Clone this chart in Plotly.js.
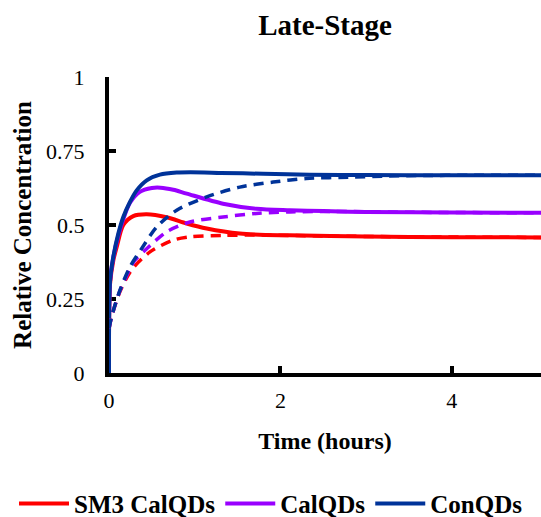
<!DOCTYPE html>
<html>
<head>
<meta charset="utf-8">
<script src="https://cdn.plot.ly/plotly-3.0.1.min.js"></script>
<style>
  html, body { margin: 0; padding: 0; background: #fff; }
  #chart { width: 541px; height: 517px; }
</style>
</head>
<body>
<div id="chart"></div>
<script>
// ---- data ----
const seriesNames = ['SM3 CalQDs', 'CalQDs', 'ConQDs'];

const tSm3Solid = [0, 0.012, 0.05, 0.09, 0.167, 0.283, 0.44, 0.672, 0.906, 1.14, 1.526, 2.11, 3, 4, 5.04];
const sm3Solid  = [0, 0.30, 0.38, 0.426, 0.500, 0.530, 0.536, 0.526, 0.505, 0.488, 0.471, 0.465, 0.461, 0.459, 0.458];

const tCalSolid = [0, 0.012, 0.05, 0.109, 0.167, 0.245, 0.36, 0.5, 0.6, 0.75, 0.906, 1.33, 1.72, 2.11, 2.5, 3, 4, 5.04];
const calSolid  = [0, 0.31, 0.39, 0.465, 0.52, 0.575, 0.612, 0.625, 0.626, 0.619, 0.606, 0.572, 0.555, 0.550, 0.547, 0.544, 0.542, 0.541];

const tConSolid = [0, 0.012, 0.05, 0.109, 0.167, 0.245, 0.323, 0.44, 0.594, 0.79, 0.95, 1.3, 1.8, 2.34, 3, 4, 5.04];
const conSolid  = [0, 0.31, 0.392, 0.471, 0.527, 0.578, 0.617, 0.651, 0.670, 0.677, 0.678, 0.676, 0.673, 0.670, 0.669, 0.668, 0.668];

const tSm3Dash = [0, 0.03, 0.128, 0.26, 0.478, 0.75, 0.944, 1.33, 1.8, 2.5, 3.5, 5.04];
const sm3Dash  = [0.15, 0.19, 0.275, 0.347, 0.409, 0.449, 0.460, 0.465, 0.466, 0.463, 0.460, 0.458];

const tCalDash = [0, 0.03, 0.128, 0.245, 0.3, 0.44, 0.672, 0.944, 1.33, 1.72, 2.11, 2.6, 3.5, 5.04];
const calDash  = [0.15, 0.19, 0.278, 0.352, 0.38, 0.42, 0.477, 0.510, 0.527, 0.539, 0.544, 0.546, 0.543, 0.541];

const tConDash = [0, 0.03, 0.128, 0.245, 0.38, 0.556, 0.79, 1.14, 1.526, 1.915, 2.3, 2.84, 3.19, 3.6, 4.2, 5.04];
const conDash  = [0.15, 0.19, 0.28, 0.359, 0.42, 0.493, 0.55, 0.595, 0.628, 0.645, 0.657, 0.662, 0.665, 0.667, 0.668, 0.668];

const yTickVals = [0, 0.25, 0.5, 0.75, 1];
const yTickText = ['0', '0.25', '0.5', '0.75', '1'];
const xTickVals = [0, 2, 4];
const xTickText = ['0', '2', '4'];

// ---- styling ----
const colors = ['#ff0000', '#9900ff', '#003399'];
const serif = 'Liberation Serif';
const styled = s => '<span style="font-family:\'Liberation Serif\';font-weight:bold">' + s + '</span>';

function solid(x, y, i) {
  return { x: x, y: y, name: styled(seriesNames[i]), type: 'scatter', mode: 'lines',
    line: { color: colors[i], width: 4, shape: 'spline', smoothing: 0.8 },
    showlegend: true, hoverinfo: 'skip' };
}
function dashed(x, y, i) {
  return { x: x, y: y, name: seriesNames[i] + ' (dashed)', type: 'scatter', mode: 'lines',
    line: { color: colors[i], width: 3.5, dash: '10px,7px', shape: 'spline', smoothing: 0.8 },
    showlegend: false, hoverinfo: 'skip' };
}

const data = [
  solid(tSm3Solid, sm3Solid, 0),
  solid(tCalSolid, calSolid, 1),
  solid(tConSolid, conSolid, 2),
  dashed(tSm3Dash, sm3Dash, 0),
  dashed(tCalDash, calDash, 1),
  dashed(tConDash, conDash, 2)
];

const plotW = 541 - 109, plotH = 517 - 76.5 - 144;

const layout = {
  width: 541, height: 517,
  margin: { l: 109, r: 0, t: 76.5, b: 144, autoexpand: false },
  paper_bgcolor: '#fff', plot_bgcolor: '#fff',
  font: { family: serif, color: '#000', size: 22 },
  title: { text: 'Late-Stage', font: { family: serif, size: 29, weight: 'bold', color: '#000' },
    xref: 'paper', x: 0.5, xanchor: 'center', yref: 'container', y: 1 - 25 / 517, yanchor: 'middle' },
  xaxis: {
    range: [0, 5.04], showgrid: false, zeroline: false,
    showline: true, linecolor: '#000', linewidth: 4,
    ticks: 'inside', ticklen: 7, tickwidth: 4, tickcolor: '#000',
    tickvals: xTickVals, ticktext: xTickText,
    tickfont: { family: serif, size: 22, color: '#000' },
    ticklabelstandoff: 5,
    layer: 'below traces',
    title: { text: 'Time (hours)', font: { family: serif, size: 24, weight: 'bold', color: '#000' }, standoff: 21 }
  },
  yaxis: {
    range: [0, 1], showgrid: false, zeroline: false,
    showline: true, linecolor: '#000', linewidth: 4,
    ticks: 'inside', ticklen: 7, tickwidth: 4, tickcolor: '#000',
    tickvals: yTickVals, ticktext: yTickText,
    tickfont: { family: serif, size: 22, color: '#000' },
    ticklabelstandoff: 16,
    layer: 'below traces',
    title: { text: 'Relative Concentration', font: { family: serif, size: 25, weight: 'bold', color: '#000' }, standoff: 8 }
  },
  legend: {
    orientation: 'h', xref: 'paper', x: (14 - 109) / plotW, xanchor: 'left',
    yref: 'paper', y: (373 - 504) / plotH, yanchor: 'middle',
    font: { family: serif, size: 25, weight: 'bold', color: '#000' },
    bgcolor: 'rgba(0,0,0,0)', borderwidth: 0, itemwidth: 50
  },
  showlegend: true
};

Plotly.newPlot('chart', data, layout, { displayModeBar: false, staticPlot: true });
</script>
</body>
</html>
